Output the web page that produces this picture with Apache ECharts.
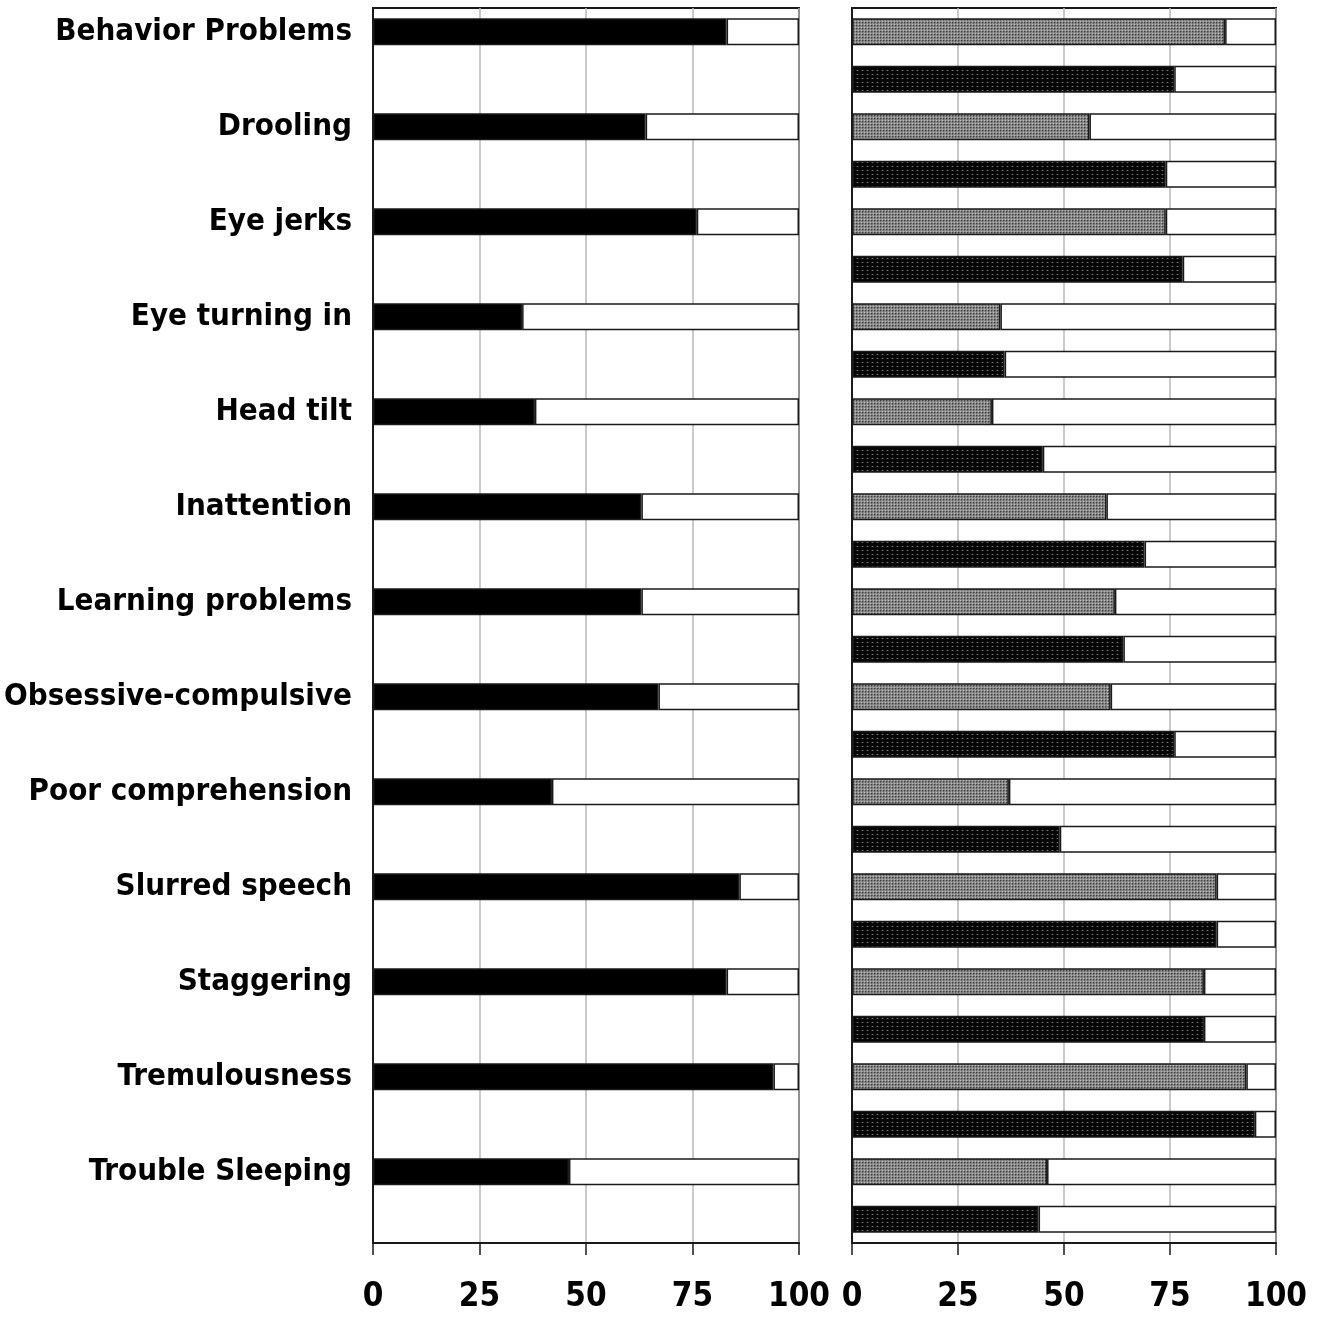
<!DOCTYPE html>
<html>
<head>
<meta charset="utf-8">
<title>Symptom prevalence</title>
<script src="https://cdn.jsdelivr.net/npm/echarts@6/dist/echarts.min.js"></script>
<style>
  html, body { margin: 0; padding: 0; background: #ffffff; }
  #chart { width: 1319px; height: 1317px; }
</style>
</head>
<body>
<div id="chart"></div>
<script>
// Symptom names, one per row pair
const categories = [
  'Behavior Problems', 'Drooling', 'Eye jerks', 'Eye turning in', 'Head tilt',
  'Inattention', 'Learning problems', 'Obsessive-compulsive', 'Poor comprehension',
  'Slurred speech', 'Staggering', 'Tremulousness', 'Trouble Sleeping'
];
// Left panel: percent reporting each symptom (solid black bars)
const overallValues = [83, 64, 76, 35, 38, 63, 63, 67, 42, 86, 83, 94, 46];
// Right panel: first group (grey stippled bars)
const groupAValues = [88, 56, 74, 35, 33, 60, 62, 61, 37, 86, 83, 93, 46];
// Right panel: second group (black stippled bars)
const groupBValues = [76, 74, 78, 36, 45, 69, 64, 76, 49, 86, 83, 95, 44];
// Percent axis ticks
const tickValues = [0, 25, 50, 75, 100];

const FONT = '"Liberation Sans Narrow", "Arial Narrow", "DejaVu Sans Condensed", "Liberation Sans", sans-serif';
const INK = '#1a1a1a';

// Two slots per symptom: slot 2i carries the first bar, slot 2i+1 the second
const slotCount = categories.length * 2;
const slots = Array.from({ length: slotCount }, (_, i) => String(i));

function spread(values, offset) {
  const out = new Array(slotCount).fill('-');
  values.forEach((v, i) => { out[i * 2 + offset] = v; });
  return out;
}
function remainder(arr) {
  return arr.map(v => (v === '-' ? '-' : 100 - v));
}

// Fill patterns
function greyStipple() {
  const c = document.createElement('canvas');
  c.width = 3; c.height = 3;
  const g = c.getContext('2d');
  g.fillStyle = '#8e8e8e'; g.fillRect(0, 0, 3, 3);
  g.fillStyle = '#3e3e3e';
  g.fillRect(1, 1, 1, 1);
  g.fillStyle = '#b8b8b8';
  g.fillRect(0, 0, 1, 1);
  g.fillStyle = '#6a6a6a';
  g.fillRect(2, 1, 1, 1); g.fillRect(1, 2, 1, 1);
  return { image: c, repeat: 'repeat' };
}
function blackStipple() {
  const c = document.createElement('canvas');
  c.width = 5; c.height = 4;
  const g = c.getContext('2d');
  g.fillStyle = '#060606'; g.fillRect(0, 0, 5, 4);
  g.fillStyle = '#7a7a7a';
  g.fillRect(2, 2, 1, 1);
  g.fillStyle = '#2e2e2e';
  g.fillRect(1, 2, 1, 1); g.fillRect(3, 2, 1, 1);
  return { image: c, repeat: 'repeat' };
}

const BAR_W = 27;
const barBorder = { borderColor: INK, borderWidth: 1.5 };

const grids = [
  { left: 373, right: 520, top: 8, bottom: 74 },
  { left: 852, right: 43, top: 8, bottom: 74 }
];

function xAxisFor(gridIndex) {
  return {
    type: 'value', gridIndex, min: 0, max: 100, interval: 25,
    axisLine: { show: true, lineStyle: { color: INK, width: 2 } },
    axisTick: { show: true, length: 12, inside: false, lineStyle: { color: INK, width: 1.5 } },
    axisLabel: {
      margin: 38, color: '#000', fontFamily: FONT, fontWeight: 'bold', fontSize: 33,
      formatter: v => (tickValues.includes(v) ? String(v) : '')
    },
    splitLine: { show: true, lineStyle: { color: '#b8b8b8', width: 1.5 } }
  };
}
function yAxisFor(gridIndex, withLabels) {
  return {
    type: 'category', gridIndex, data: slots, inverse: true,
    boundaryGap: true,
    axisLine: { show: true, lineStyle: { color: INK, width: 2 } },
    axisTick: { show: false },
    splitLine: { show: false },
    axisLabel: {
      show: withLabels, interval: 0, margin: 21, color: '#000',
      fontFamily: FONT, fontWeight: 'bold', fontSize: 31,
      formatter: (v, idx) => (idx % 2 === 0 ? categories[idx / 2] : '')
    }
  };
}

const overallSlots = spread(overallValues, 0);
const groupASlots = spread(groupAValues, 0);
const groupBSlots = spread(groupBValues, 1);

const series = [
  {
    name: 'All', type: 'bar', xAxisIndex: 0, yAxisIndex: 0, stack: 'left',
    barWidth: BAR_W, data: overallSlots,
    itemStyle: Object.assign({ color: '#000000' }, barBorder)
  },
  {
    name: 'All rest', type: 'bar', xAxisIndex: 0, yAxisIndex: 0, stack: 'left',
    barWidth: BAR_W, data: remainder(overallSlots),
    itemStyle: Object.assign({ color: '#ffffff' }, barBorder)
  },
  {
    name: 'Group A', type: 'bar', xAxisIndex: 1, yAxisIndex: 1, stack: 'right',
    barWidth: BAR_W, data: groupASlots,
    itemStyle: Object.assign({ color: greyStipple() }, barBorder)
  },
  {
    name: 'Group B', type: 'bar', xAxisIndex: 1, yAxisIndex: 1, stack: 'right',
    barWidth: BAR_W, data: groupBSlots,
    itemStyle: Object.assign({ color: blackStipple() }, barBorder)
  },
  {
    name: 'Right rest', type: 'bar', xAxisIndex: 1, yAxisIndex: 1, stack: 'right',
    barWidth: BAR_W,
    data: slots.map((_, i) => {
      const v = i % 2 === 0 ? groupASlots[i] : groupBSlots[i];
      return 100 - v;
    }),
    itemStyle: Object.assign({ color: '#ffffff' }, barBorder)
  }
];

const chart = echarts.init(document.getElementById('chart'), null, { renderer: 'canvas' });
chart.setOption({
  animation: false,
  backgroundColor: '#ffffff',
  grid: grids.map(g => Object.assign({
    show: true, borderColor: INK, borderWidth: 2, backgroundColor: '#ffffff', containLabel: false
  }, g)),
  xAxis: [xAxisFor(0), xAxisFor(1)],
  yAxis: [yAxisFor(0, true), yAxisFor(1, false)],
  series
});
</script>
</body>
</html>
